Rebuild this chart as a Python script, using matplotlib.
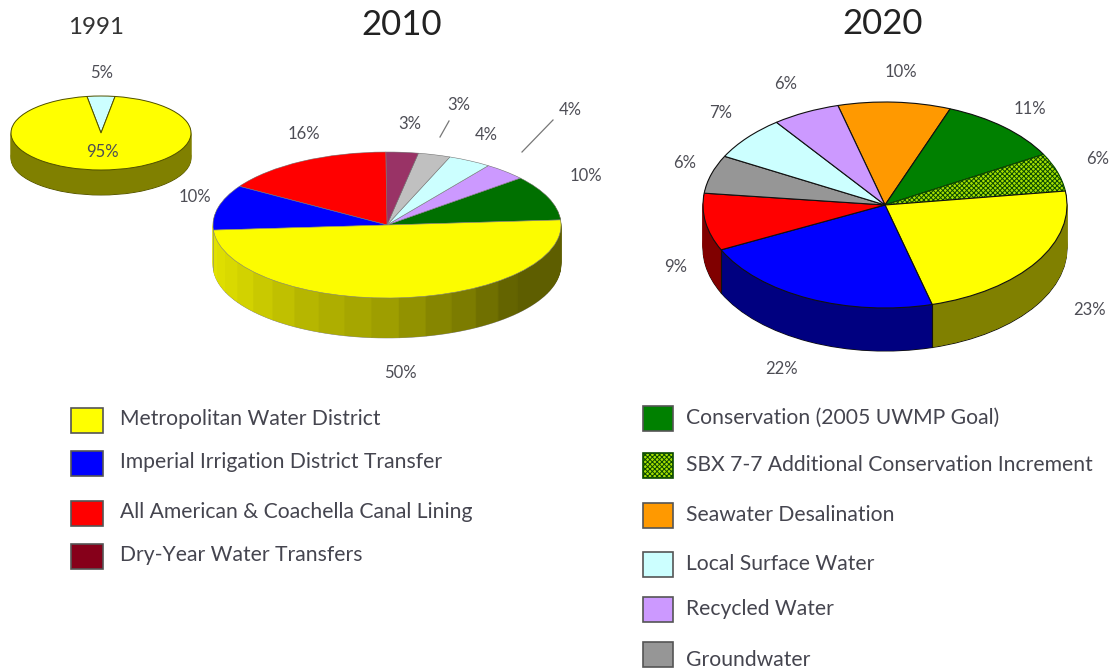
import numpy as np
import matplotlib
matplotlib.use('Agg')
import matplotlib.pyplot as plt
from matplotlib.patches import Rectangle

W, H = 1111, 671

plt.rcParams['font.family'] = ['Lato', 'DejaVu Sans']
plt.rcParams['hatch.linewidth'] = 0.7

# data
vals_1991 = [5, 95]
labels_1991 = ['5%', '95%']
cols_1991 = ['#ccffff', '#ffff00']
side_1991 = ['#808000', '#808000']

# anticlockwise from the right
names_2010 = ['Conservation', 'Recycled', 'Local Surface', 'Groundwater', 'Dry-Year', 'Canal Lining', 'IID', 'MWD']
vals_2010 = [10, 4, 4, 3, 3, 16, 10, 50]
labels_2010 = ['10%', '4%', '4%', '3%', '3%', '16%', '10%', '50%']
cols_2010 = ['#007000', '#cc99ff', '#ccffff', '#c0c0c0', '#993366', '#ff0000', '#0000ff', '#fcfc00']
# the front of the yellow slice is shaded in bands
band_cols_2010 = ['#e2e200', '#dede00', '#d9d900', '#d2d200', '#c9c900', '#c0c000', '#b6b600', '#aeae00',
                  '#a6a600', '#9e9e00', '#929200', '#868600', '#7c7c00', '#707000', '#646400', '#5e5e00',
                  '#5e5e00', '#5e5e00', '#5e5e00', '#5e5e00']

# clockwise from the top
names_2020 = ['Desalination', 'Conservation', 'SBX 7-7', 'MWD', 'IID', 'Canal Lining', 'Groundwater', 'Local Surface', 'Recycled']
vals_2020 = [10, 11, 6, 23, 22, 9, 6, 7, 6]
labels_2020 = ['10%', '11%', '6%', '23%', '22%', '9%', '6%', '7%', '6%']
cols_2020 = ['#ff9900', '#008000', '#a6e000', '#ffff00', '#0000ff', '#ff0000', '#969696', '#ccffff', '#cc99ff']
side_2020 = ['#804c00', '#004000', '#506000', '#808000', '#000080', '#800000', '#4b4b4b', '#668080', '#664c80']

legend_left = ['Metropolitan Water District', 'Imperial Irrigation District Transfer',
               'All American & Coachella Canal Lining', 'Dry-Year Water Transfers']
legend_left_cols = ['#ffff00', '#0000ff', '#ff0000', '#86001a']
legend_right = ['Conservation (2005 UWMP Goal)', 'SBX 7-7 Additional Conservation Increment',
                'Seawater Desalination', 'Local Surface Water', 'Recycled Water', 'Groundwater']
legend_right_cols = ['#008000', '#a6e000', '#ff9900', '#ccffff', '#cc99ff', '#969696']

fig = plt.figure(figsize=(W / 100, H / 100), dpi=100, facecolor='white')

# overlay in pixel coordinates for the text, leader lines and swatches
top = fig.add_axes([0, 0, 1, 1], zorder=5)
top.set_xlim(0, W)
top.set_ylim(H, 0)
top.axis('off')


def pie3d(cx, cy, rx, ry, depth, values, colors, side_values, side_colors, start, clockwise, edge, lw):
    # one axes per pie, the pie itself gets squashed by aspect auto
    pad = 0.03
    d = depth / ry
    x0 = cx - rx * (1 + pad)
    y1 = cy - ry * (1 + pad)
    w = 2 * rx * (1 + pad)
    h = ry * (2 + 2 * pad + d)
    ax = fig.add_axes([x0 / W, 1 - (y1 + h) / H, w / W, h / H])
    # bottom layer has the outline, the rest just builds up the wall
    for i, off in enumerate(np.linspace(d, 0, int(depth) * 2, endpoint=False)):
        layer, _ = ax.pie(side_values, colors=side_colors, startangle=start, counterclock=not clockwise,
                          center=(0, -off), radius=1)
        for wd in layer:
            wd.set_linewidth(lw if i == 0 else 0.3)
            wd.set_edgecolor(edge if i == 0 else wd.get_facecolor())
    wedges, _ = ax.pie(values, colors=colors, startangle=start, counterclock=not clockwise,
                       wedgeprops={'linewidth': lw, 'edgecolor': edge})
    # vertical edges on the front wall
    for wd in wedges:
        t = np.radians(wd.theta1)
        if np.sin(t) < -0.05:
            ax.plot([np.cos(t), np.cos(t)], [np.sin(t), np.sin(t) - d], color=edge, lw=lw)
    ax.set_aspect('auto')
    ax.set_xlim(-1 - pad, 1 + pad)
    ax.set_ylim(-1 - d - pad, 1 + pad)
    ax.set_axis_off()
    return wedges


pie3d(101, 133, 90, 37, 25, vals_1991, cols_1991, vals_1991, side_1991, 81, False, '#505000', 0.7)

# green and blue walls only show as slivers next to the yellow one, the picture has them in the yellow shades
side_vals_2010 = vals_2010[:-1] + [vals_2010[-1] / len(band_cols_2010)] * len(band_cols_2010)
side_cols_2010 = ['#5e5e00', '#664c80', '#668080', '#606060', '#4c1a33', '#800000', '#e2e200'] + band_cols_2010
pie3d(387, 225, 174, 73, 40, vals_2010, cols_2010, side_vals_2010, side_cols_2010, 4, False, '#808080', 0.4)

w2020 = pie3d(885, 205, 182, 103, 43, vals_2020, cols_2020, vals_2020, side_2020, 105, True, '#111111', 0.8)
w2020[2].set_hatch('xxxxxxx')
w2020[2].set_edgecolor('#0a4a00')

# titles
top.text(96, 27, '1991', fontsize=17.4, color='#333333', ha='center', va='center')
top.text(402, 25, '2010', fontsize=25, color='#222222', ha='center', va='center')
top.text(883, 24, '2020', fontsize=25, color='#222222', ha='center', va='center')

# pie labels
lab_color = '#4d4d55'
pos_1991 = [(102, 73), (102, 152)]
for s, (x, y) in zip(labels_1991, pos_1991):
    top.text(x, y, s, fontsize=12, color=lab_color, ha='center', va='center')
pos_2010 = [(586, 176), (570, 110), (486, 135), (459, 105), (410, 124), (304, 134), (195, 197), (400, 373)]
for s, (x, y) in zip(labels_2010, pos_2010):
    top.text(x, y, s, fontsize=12, color=lab_color, ha='center', va='center')
pos_2020 = [(901, 72), (1030, 109), (1098, 159), (1090, 310), (782, 369), (676, 267), (685, 163), (721, 113), (786, 84)]
for s, (x, y) in zip(labels_2020, pos_2020):
    top.text(x, y, s, fontsize=12, color=lab_color, ha='center', va='center')

# leader lines of the two small 2010 slices
top.plot([440, 449], [137, 121], color='#777777', lw=0.9)
top.plot([522, 553], [152, 120], color='#777777', lw=0.9)

# legends
txt_color = '#45454f'
left_y = [420, 463, 513, 556]
for s, c, y in zip(legend_left, legend_left_cols, left_y):
    top.add_patch(Rectangle((71, y - 12.5), 32, 25, facecolor=c, edgecolor='#555555', lw=1.2))
    top.text(120, y - 1, s, fontsize=15.2, color=txt_color, va='center')

right_y = [418, 465, 515, 564, 609, 654]
right_text_y = [418, 465, 515, 564, 609, 660]
for i, (s, c, y, ty) in enumerate(zip(legend_right, legend_right_cols, right_y, right_text_y)):
    r = Rectangle((643, y - 12.5), 30, 25, facecolor=c, edgecolor='#555555', lw=1.2)
    if i == 1:
        r.set_hatch('xxxxxxx')
        r.set_edgecolor('#0a4a00')
    top.add_patch(r)
    top.text(686, ty, s, fontsize=15.2, color=txt_color, va='center')

fig.savefig('out.png', dpi=100)
